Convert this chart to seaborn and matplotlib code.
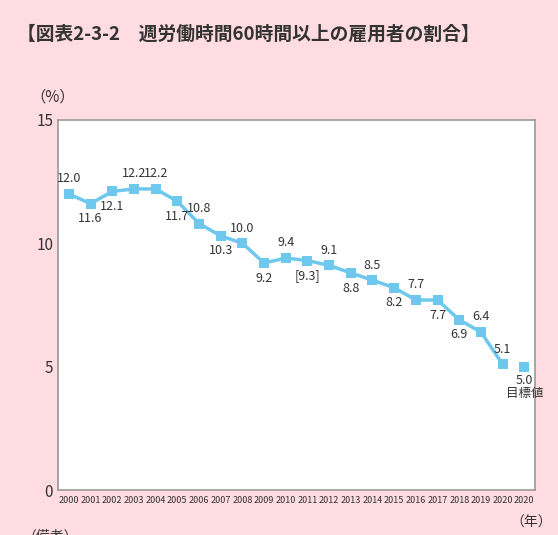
import matplotlib
matplotlib.use("Agg")
import matplotlib.pyplot as plt
import seaborn as sns
import numpy as np

years = [str(y) for y in range(2000, 2021)] + ["2020"]
values = [12.0, 11.6, 12.1, 12.2, 12.2, 11.7, 10.8, 10.3, 10.0, 9.2, 9.4,
          9.3, 9.1, 8.8, 8.5, 8.2, 7.7, 7.7, 6.9, 6.4, 5.1]
labels = ["12.0", "11.6", "12.1", "12.2", "12.2", "11.7", "10.8", "10.3", "10.0", "9.2", "9.4",
          "[9.3]", "9.1", "8.8", "8.5", "8.2", "7.7", "7.7", "6.9", "6.4", "5.1"]
above = [1, 0, 0, 1, 1, 0, 1, 0, 1, 0, 1, 0, 1, 0, 1, 0, 1, 0, 0, 1, 1]
target = 5.0

sns.set_style("white")
plt.rcParams['font.family'] = ['Noto Sans CJK JP', 'DejaVu Sans']
pink = "#FFDCE2"
blue = "#6EC8EE"

fig = plt.figure(figsize=(5.58, 5.35), dpi=100, facecolor=pink)
ax = fig.add_axes([0.104, 0.084, 0.855, 0.692])
ax.set_facecolor("white")

x = np.arange(len(values))
sns.lineplot(x=x, y=values, ax=ax, color=blue, lw=2.5, marker="s", markersize=7,
             markeredgewidth=0)
ax.plot([len(values)], [target], marker="s", color=blue, markersize=7, markeredgewidth=0)

for xi, v, lab, up in zip(x, values, labels, above):
    if up:
        ax.text(xi, v + 0.35, lab, ha="center", va="bottom", fontsize=9, color="#333333")
    else:
        ax.text(xi, v - 0.35, lab, ha="center", va="top", fontsize=9, color="#333333")
ax.text(len(values), target - 0.3, "5.0\n目標値", ha="center", va="top", fontsize=9,
        color="#333333", linespacing=1.0)

ax.set_xlim(-0.5, len(years) - 0.5)
ax.set_ylim(0, 15)
ax.set_yticks([0, 5, 10, 15])
ax.set_yticklabels(["0", "5", "10", "15"], fontsize=11, color="#333333")
ax.set_xticks(np.arange(len(years)) + 0.5, minor=False)
ax.set_xticklabels([])
ax.tick_params(axis="x", length=4, color="#888888", direction="in")
ax.tick_params(axis="y", length=0)
for i, yl in enumerate(years):
    ax.text(i, -0.25, yl, ha="center", va="top", fontsize=6.5, color="#333333")
for s in ax.spines.values():
    s.set_color("#999999")
    s.set_linewidth(1.2)

fig.text(0.055, 0.81, "（%）", fontsize=11, color="#333333")
fig.text(0.915, 0.015, "（年）", fontsize=10, color="#333333")
fig.text(0.04, -0.01, "（備考）", fontsize=10, color="#333333")
fig.text(0.03, 0.925, "【図表2-3-2　週労働時間60時間以上の雇用者の割合】", fontsize=13.5,
         fontweight="bold", color="#333333")

fig.savefig("out.png", dpi=100, facecolor=pink)
